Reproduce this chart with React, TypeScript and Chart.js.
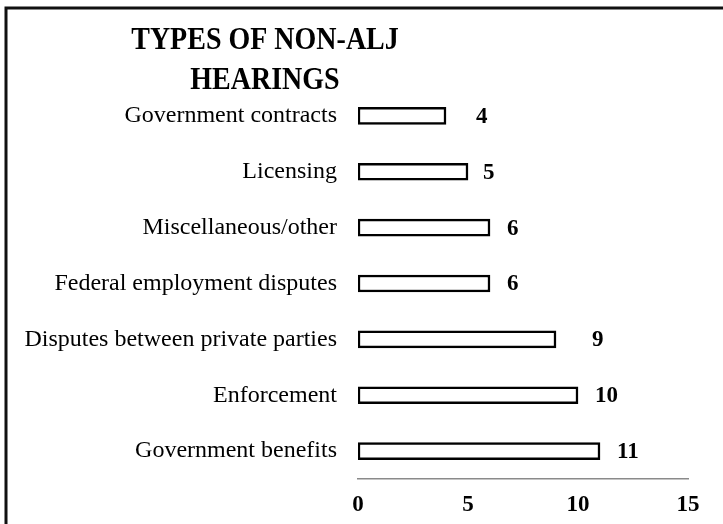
import { useEffect, useRef } from "react";
import { Chart, registerables } from "chart.js";

Chart.register(...registerables);

const categories = [
  "Government contracts",
  "Licensing",
  "Miscellaneous/other",
  "Federal employment disputes",
  "Disputes between private parties",
  "Enforcement",
  "Government benefits",
];
const values = [4, 5, 6, 6, 9, 10, 11];
const xMin = 0;
const xMax = 15;
const xStep = 5;
const titleLines = ["TYPES OF NON-ALJ", "HEARINGS"];

// extra spacing (px) between each bar end and its value label, as in the original slide
const valueLabelGap = [30, 15, 17, 17, 36, 17, 17];

const SERIF = "'Liberation Serif', 'Times New Roman', serif";

const decorPlugin = {
  id: "decor",
  beforeDraw(chart: any) {
    const { ctx, width, height } = chart;
    ctx.save();
    ctx.fillStyle = "#ffffff";
    ctx.fillRect(0, 0, width, height);
    ctx.strokeStyle = "#111111";
    ctx.lineWidth = 3;
    ctx.beginPath();
    ctx.moveTo(6, height);
    ctx.lineTo(6, 8);
    ctx.lineTo(width, 8);
    ctx.stroke();
    ctx.restore();
  },
  afterDraw(chart: any) {
    const { ctx } = chart;
    ctx.save();
    ctx.fillStyle = "#000000";
    ctx.font = `bold 28px ${SERIF}`;
    ctx.textAlign = "center";
    ctx.textBaseline = "alphabetic";
    const sy = 1.12;
    ctx.scale(1, sy);
    ctx.fillText(titleLines[0], 265, 49 / sy);
    ctx.fillText(titleLines[1], 265, 89 / sy);
    ctx.restore();
  },
  afterDatasetsDraw(chart: any) {
    const { ctx } = chart;
    const meta = chart.getDatasetMeta(0);
    ctx.save();
    ctx.fillStyle = "#000000";
    ctx.font = `bold 23px ${SERIF}`;
    ctx.textAlign = "left";
    ctx.textBaseline = "middle";
    meta.data.forEach((bar: any, i: number) => {
      ctx.fillText(String(values[i]), bar.x + valueLabelGap[i], bar.y + 1);
    });
    ctx.restore();
  },
};

export default function App() {
  const ref = useRef<HTMLCanvasElement | null>(null);
  useEffect(() => {
    if (!ref.current) return;
    const chart = new Chart(ref.current, {
      type: "bar",
      data: {
        labels: categories,
        datasets: [
          {
            data: values,
            backgroundColor: "#ffffff",
            borderColor: "#000000",
            borderWidth: 2.5,
            borderSkipped: false,
            barThickness: 17,
          },
        ],
      },
      options: {
        indexAxis: "y",
        responsive: false,
        animation: false,
        layout: { padding: { top: 88, right: 35, left: 13, bottom: 0 } },
        plugins: {
          legend: { display: false },
          title: { display: false },
          tooltip: { enabled: false },
        },
        scales: {
          x: {
            min: xMin,
            max: xMax,
            ticks: {
              stepSize: xStep,
              color: "#000000",
              font: { family: SERIF, size: 23, weight: "bold" },
              padding: 12,
              maxRotation: 0,
            },
            grid: { display: false, drawTicks: false },
            border: { display: true, color: "#8a8a8a", width: 1.5, dash: [1, 1] },
            afterFit(scale: any) {
              scale.height = 45;
            },
          },
          y: {
            ticks: {
              color: "#000000",
              font: { family: SERIF, size: 24 },
              padding: 21,
            },
            grid: { display: false, drawTicks: false },
            border: { display: false },
            afterFit(scale: any) {
              scale.width = 345;
            },
          },
        },
      },
      plugins: [decorPlugin],
    });
    return () => chart.destroy();
  }, []);
  return (
    <div style={{ position: "fixed", left: 0, top: 0, width: 723, height: 524, background: "#fff" }}>
      <canvas ref={ref} width={723} height={524} style={{ display: "block" }} />
    </div>
  );
}
